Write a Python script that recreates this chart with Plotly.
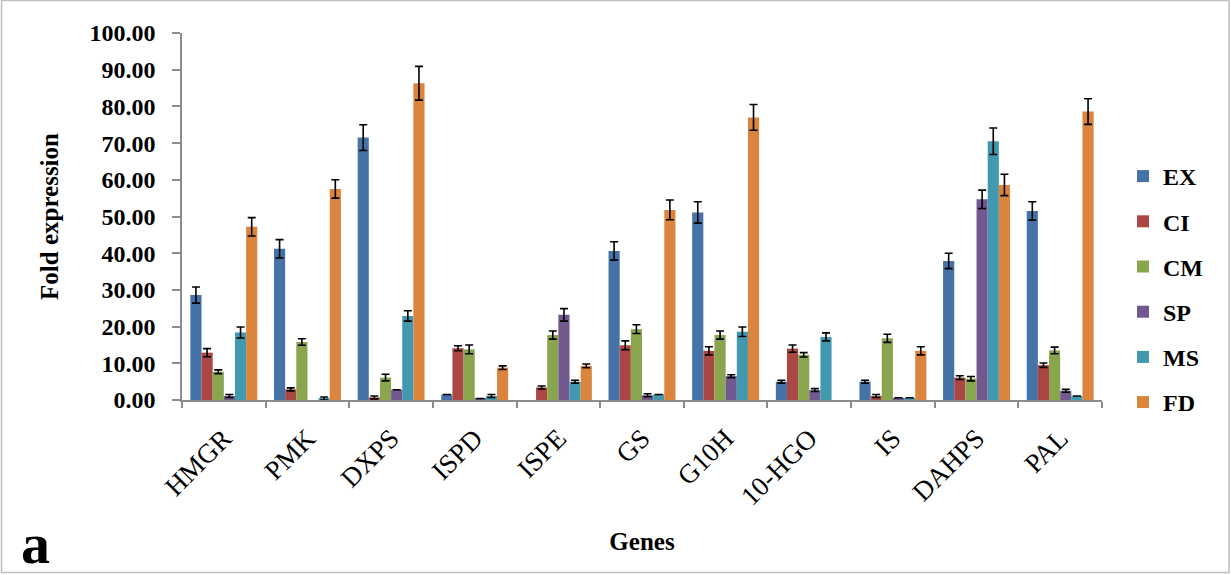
import plotly.graph_objects as go

genes = ["HMGR", "PMK", "DXPS", "ISPD", "ISPE", "GS", "G10H", "10-HGO", "IS", "DAHPS", "PAL"]
series_names = ["EX", "CI", "CM", "SP", "MS", "FD"]

EX = [28.6, 41.2, 71.5, 1.5, None, 40.6, 51.1, 5.0, 5.0, 37.9, 51.5]
CI = [12.9, 2.9, 0.7, 14.1, 3.4, 14.9, 13.4, 14.0, 1.1, 6.1, 9.5]
CM = [7.7, 15.8, 6.1, 13.8, 17.7, 19.3, 17.7, 12.3, 16.8, 5.8, 13.5]
SP = [1.1, None, 2.8, 0.4, 23.2, 1.3, 6.5, 2.7, 0.6, 54.7, 2.5]
MS = [18.4, 0.4, 22.9, 1.1, 5.0, 1.5, 18.6, 17.2, 0.6, 70.5, 1.1]
FD = [47.2, 57.5, 86.3, 8.8, 9.3, 51.8, 77.0, None, 13.4, 58.6, 78.6]

EX_err = [2.2, 2.5, 3.5, 0.0, None, 2.5, 2.9, 0.4, 0.4, 2.1, 2.5]
CI_err = [1.1, 0.4, 0.4, 0.7, 0.4, 1.2, 1.1, 1.0, 0.4, 0.5, 0.6]
CM_err = [0.5, 0.9, 0.9, 1.2, 1.1, 1.2, 1.1, 0.6, 1.1, 0.6, 0.9]
SP_err = [0.4, None, 0.0, 0.0, 1.7, 0.4, 0.4, 0.4, 0.0, 2.5, 0.4]
MS_err = [1.5, 0.4, 1.4, 0.4, 0.4, 0.0, 1.3, 1.1, 0.0, 3.6, 0.0]
FD_err = [2.5, 2.5, 4.6, 0.5, 0.5, 2.7, 3.5, None, 1.1, 2.9, 3.5]

colors = ["#4572A7", "#AA4643", "#89A54E", "#71588F", "#4198AF", "#DB843D"]

values = [EX, CI, CM, SP, MS, FD]
errors = [EX_err, CI_err, CM_err, SP_err, MS_err, FD_err]

fig = go.Figure()
for name, vals, errs, col in zip(series_names, values, errors, colors):
    fig.add_trace(go.Bar(
        name=name, x=genes, y=vals,
        marker=dict(color=col, line=dict(width=0)),
        error_y=dict(type="data", array=errs, visible=True, color="black", thickness=1.6, width=4),
        legendgroup=name,
    ))

W, H = 1231, 575
ml, mr, mt, mb = 182, 129, 33, 175
pw = W - ml - mr
ph = H - mt - mb


def px_x(p):
    return (p - ml) / pw


def px_y(p):
    return (mt + ph - p) / ph


fig.update_layout(
    width=W, height=H,
    margin=dict(l=ml, r=mr, t=mt, b=mb),
    paper_bgcolor="white", plot_bgcolor="white",
    barmode="group", bargap=0.2, bargroupgap=0,
    font=dict(family="Liberation Serif", color="black"),
    showlegend=True,
    legend=dict(x=px_x(1123), y=px_y(154), xanchor="left", yanchor="top",
                font=dict(size=24, family="Liberation Serif", color="black", weight="bold"),
                tracegroupgap=11, itemwidth=30, bgcolor="rgba(0,0,0,0)"),
    xaxis=dict(
        showline=True, linecolor="#8c8c8c", linewidth=1.5,
        ticks="outside", tickson="boundaries", ticklen=6, tickcolor="#8c8c8c", tickwidth=1.5,
        tickangle=-45, tickfont=dict(size=27, family="Liberation Serif", color="black"),
        ticklabelstandoff=10,
        title=dict(text="Genes", font=dict(size=25, family="Liberation Serif", weight="bold"), standoff=22),
        showgrid=False,
    ),
    yaxis=dict(
        range=[0, 100], dtick=10, tickformat=".2f",
        showline=True, linecolor="#8c8c8c", linewidth=1.5,
        ticks="outside", ticklen=8, tickcolor="#8c8c8c", tickwidth=1.5,
        tickfont=dict(size=24, family="Liberation Serif", color="black", weight="bold"),
        ticklabelstandoff=12,
        title=dict(text="Fold expression", font=dict(size=25, family="Liberation Serif", weight="bold"), standoff=24),
        showgrid=False, zeroline=False,
    ),
    shapes=[dict(type="rect", xref="paper", yref="paper",
                 x0=px_x(1.5), x1=px_x(W - 2),
                 y0=px_y(H - 2.5), y1=px_y(0.5),
                 line=dict(color="#bfbfbf", width=1.5), fillcolor="rgba(0,0,0,0)", layer="below")],
    annotations=[dict(text="<b>a</b>", xref="paper", yref="paper",
                      x=px_x(35), y=px_y(543), xanchor="center", yanchor="middle",
                      showarrow=False, font=dict(size=58, family="Liberation Serif", color="black"))],
)

fig.write_html("out.html", config={"displayModeBar": False},
               post_script="document.body.style.margin='0';document.body.style.padding='0';")
